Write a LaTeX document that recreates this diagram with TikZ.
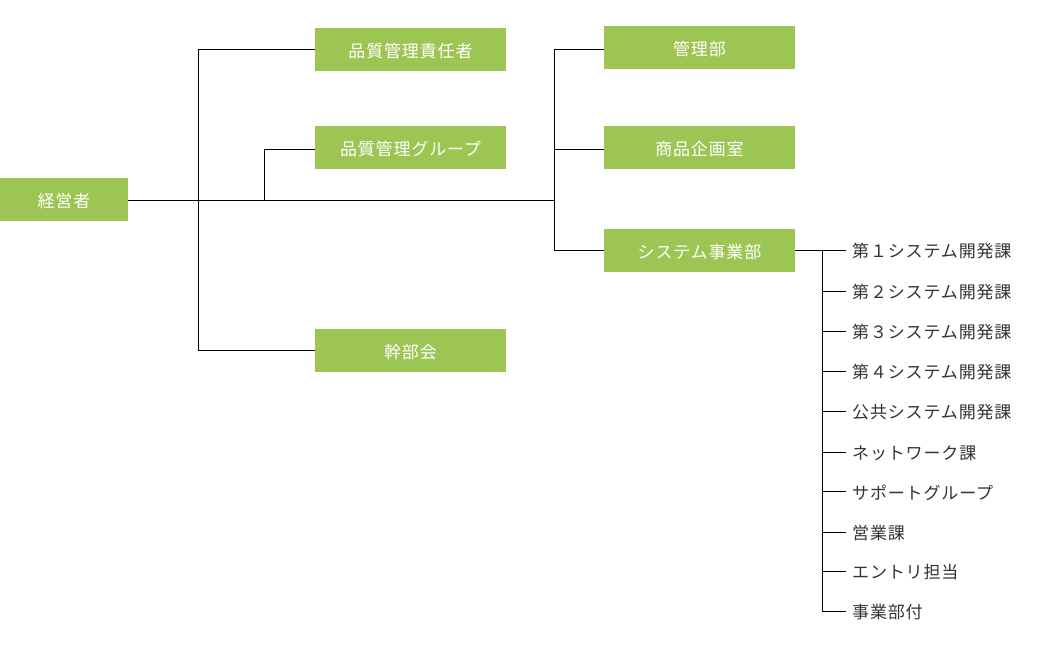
\documentclass[tikz,border=0pt]{standalone}
\usepackage{fontspec}
\setmainfont{Noto Sans CJK JP}[LetterSpace=5]
\definecolor{boxgreen}{HTML}{9DC553}
\definecolor{txtdark}{HTML}{333333}
\newcommand{\lowtxt}[1]{\smash{\raisebox{-1.5pt}{#1}}\vphantom{#1}}
\begin{document}
\begin{tikzpicture}[x=1pt,y=-1pt,
  orgbox/.style={fill=boxgreen,text=white,minimum width=191pt,minimum height=43pt,inner sep=0pt,font=\fontsize{17}{17}\selectfont},
  item/.style={anchor=west,text=txtdark,inner sep=0pt,font=\fontsize{17}{17}\selectfont},
  conn/.style={line width=1pt,black}]
\useasboundingbox (0,0) rectangle (1050,650);
\node[orgbox,minimum width=128pt] (keiei) at (64,199.5) {\lowtxt{経営者}};
\node[orgbox] (qmr) at (410.5,49.5) {\lowtxt{品質管理責任者}};
\node[orgbox] (qmg) at (410.5,147.5) {\lowtxt{品質管理グループ}};
\node[orgbox] (kanbu) at (410.5,350.5) {\lowtxt{幹部会}};
\node[orgbox] (kanri) at (699.5,47.5) {\lowtxt{管理部}};
\node[orgbox] (shohin) at (699.5,147.5) {\lowtxt{商品企画室}};
\node[orgbox] (sys) at (699.5,250.5) {\lowtxt{システム事業部}};

\coordinate (j1) at (198,200);
\coordinate (j2) at (264,200);
\coordinate (j3) at (554,200);
\draw[conn] (keiei.east |- j1) -- (j3);
\draw[conn] (qmr.west |- 0,50) -| (198,350) -- (kanbu.west |- 0,350);
\draw[conn] (j2) |- (qmg.west |- 0,150);
\draw[conn] (kanri.west |- 0,50) -| (554,250) -- (sys.west |- 0,250);
\draw[conn] (554,150) -- (shohin.west |- 0,150);

\coordinate (v) at (822,250);
\draw[conn] (sys.east |- 0,250) -- (846,250);
\foreach \n/\y/\t in {i1/250/第１システム開発課, i2/291/第２システム開発課, i3/331/第３システム開発課, i4/371/第４システム開発課, i5/411/公共システム開発課, i6/452/ネットワーク課, i7/491/サポートグループ, i8/532/営業課, i9/571/エントリ担当, i10/611/事業部付}{
  \node[item] (\n) at (852,\y) {\lowtxt{\t}};
  \draw[conn] (822,\y) -- (846,\y);
}
\draw[conn] (822,250) -- (822,611.5);
\end{tikzpicture}
\end{document}
